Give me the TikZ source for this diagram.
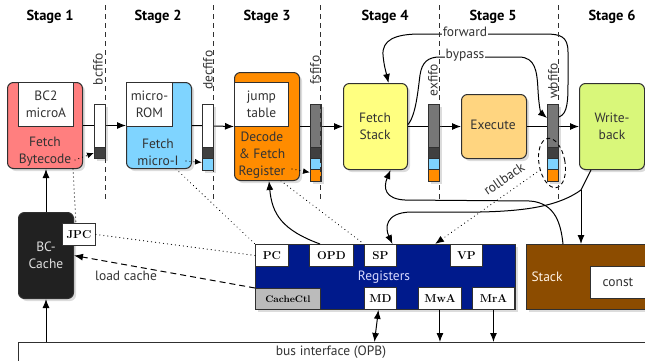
\documentclass[tikz,border=0pt]{standalone}
\usepackage{fontspec}
\setmainfont{PT Sans}
\newfontfamily\regfont{Latin Modern Roman}
\usetikzlibrary{arrows.meta,shadows,shapes.geometric,calc}
\definecolor{cred}{HTML}{FF7F7F}
\definecolor{cblue}{HTML}{7FD4FF}
\definecolor{corange}{HTML}{FF8C00}
\definecolor{cyellow}{HTML}{FFFF80}
\definecolor{cpeach}{HTML}{FFD580}
\definecolor{clime}{HTML}{D9F77A}
\definecolor{cnavy}{HTML}{001A8C}
\definecolor{cbrown}{HTML}{8C4C00}
\definecolor{cline}{HTML}{303030}
\definecolor{cgray}{HTML}{777777}
\definecolor{cdark}{HTML}{404040}
\definecolor{ctext}{HTML}{333333}
\definecolor{cctl}{HTML}{BBBBBB}
\begin{document}
\begin{tikzpicture}[x=1pt,y=-1pt,
  font=\fontsize{13.5}{17}\selectfont,
  shad/.style={drop shadow={shadow xshift=2.5pt,shadow yshift=-2.5pt,opacity=0.28}},
  stagebox/.style={draw=cline,line width=1pt,rounded corners=6pt,anchor=north west,inner sep=0pt,shad},
  inbox/.style={draw=cline,line width=0.9pt,fill=white,anchor=north west,inner sep=0pt,align=center,text=ctext},
  lbl/.style={align=center,text=ctext,inner sep=0pt},
  stagelbl/.style={font=\fontsize{14.5}{17}\selectfont\bfseries,inner sep=0pt},
  reg/.style={draw=cline,line width=0.9pt,fill=white,anchor=north west,inner sep=0pt,minimum height=22pt,font=\regfont\fontsize{11.5}{13}\selectfont\bfseries},
  fifo/.style={draw=cline,line width=0.8pt,anchor=north west,inner sep=0pt,minimum width=11pt,shad},
  seg/.style={draw=cline,line width=0.8pt,anchor=north west,inner sep=0pt,minimum width=11pt,minimum height=11pt},
  fifolbl/.style={rotate=90,text=ctext,inner sep=0pt},
  tip/.style={-{Latex[length=9pt,width=7pt]}},
  smalltip/.style={-{Latex[length=7pt,width=6pt]}},
  arr/.style={tip,line width=1pt,draw=black},
  plain/.style={line width=1pt,draw=black},
  dotline/.style={line width=1.2pt,dash pattern=on 0.01pt off 4pt,line cap=round},
  stagesep/.style={line width=0.9pt,draw=cline,dash pattern=on 5pt off 4pt},
  side/.style={text=ctext,inner sep=1pt}]
\useasboundingbox (0,0) rectangle (645,360);

% stage labels
\node[stagelbl] (s1) at (50,17) {Stage 1};
\node[stagelbl] (s2) at (158,17) {Stage 2};
\node[stagelbl] (s3) at (267,17) {Stage 3};
\node[stagelbl] (s4) at (385,17) {Stage 4};
\node[stagelbl] (s5) at (493,17) {Stage 5};
\node[stagelbl] (s6) at (612,17) {Stage 6};

% stage boxes
\node[stagebox,fill=cred,minimum width=75pt,minimum height=86pt] (fb) at (7,82) {};
\node[inbox,minimum width=55pt,minimum height=44pt] (fbi) at (18,82) {BC2\\microA};
\node[lbl] (fbt) at (45,152) {Fetch\\Bytecode};

\node[stagebox,fill=cblue,minimum width=65pt,minimum height=86pt] (fm) at (126,82) {};
\node[inbox,minimum width=46pt,minimum height=44pt] (fmi) at (126,82) {micro-\\ROM};
\node[lbl] (fmt) at (158,152) {Fetch\\micro-I};

\node[stagebox,fill=corange,minimum width=65pt,minimum height=108pt] (dr) at (234,72) {};
\node[inbox,minimum width=54pt,minimum height=44pt] (dri) at (234,82) {jump\\table};
\node[lbl] (drt) at (262,155) {Decode\\\& Fetch\\Register};

\node[stagebox,fill=cyellow,minimum width=64pt,minimum height=86pt] (fs) at (343,83) {};
\node[lbl] (fst) at (375,126) {Fetch\\Stack};

\node[stagebox,fill=cpeach,minimum width=65pt,minimum height=64pt] (ex) at (461,94) {};
\node[lbl] (ext) at (493,125) {Execute};

\node[stagebox,fill=clime,minimum width=65pt,minimum height=86pt] (wb) at (579,83) {};
\node[lbl] (wbt) at (612,126) {Write-\\back};

% main pipeline arrows
\draw[arr] (fb.east) -- (fm.west);
\draw[arr] (fm.east) -- (dr.west);
\draw[arr] (dr.east) -- (fs.west);
\draw[arr] (fs.east) -- (ex.west);
\draw[arr] (ex.east) -- (wb.west);

% fifos
\node[fifo,fill=white,minimum height=54pt] (bcf) at (94,104) {};
\node[seg,fill=cdark] (bcf2) at (94,147) {};

\node[fifo,fill=white,minimum height=66pt] (dcf) at (202,104) {};
\node[seg,fill=cdark] (dcf2) at (202,147) {};
\node[seg,fill=cblue,minimum height=12pt] (dcf3) at (202,158) {};

\node[fifo,fill=cgray,minimum height=77pt] (fsf) at (310,104) {};
\node[seg,fill=cdark] (fsf2) at (310,147) {};
\node[seg,fill=cblue] (fsf3) at (310,158) {};
\node[seg,fill=corange,minimum height=12pt] (fsf4) at (310,169) {};

\node[fifo,fill=cgray,minimum height=77pt] (exf) at (428,104) {};
\node[seg,fill=cdark] (exf2) at (428,147) {};
\node[seg,fill=cblue] (exf3) at (428,158) {};
\node[seg,fill=corange,minimum height=12pt] (exf4) at (428,169) {};

\node[fifo,fill=cgray,minimum height=77pt] (wbf) at (547,104) {};
\node[seg,fill=cdark] (wbf2) at (547,147) {};
\node[seg,fill=cblue] (wbf3) at (547,158) {};
\node[seg,fill=corange,minimum height=12pt] (wbf4) at (547,169) {};

% fifo labels
\node[fifolbl] (l1) at (98,69) {bcfifo};
\node[fifolbl] (l2) at (208,70) {decfifo};
\node[fifolbl] (l3) at (315,70) {fsfifo};
\node[fifolbl] (l4) at (433,80) {exfifo};
\node[fifolbl] (l5) at (553,81) {wbfifo};

% small write arrows into fifo slots
\draw[dotline,smalltip] ($(fb.south east)+(-8,-9)$) -- (bcf2.west);
\draw[dotline,smalltip] ($(fm.south east)+(-6,-8)$) -- ([yshift=2pt]dcf3.west);
\draw[dotline,smalltip] ($(dr.south east)+(-8,-12)$) -- ([yshift=3pt]fsf4.west);

% forward and bypass
\draw[arr] ([yshift=-13pt]wbf.north east) .. controls (568,114) and (568,100) .. (568,80)
  -- (568,52) .. controls (568,36) and (560,34) .. (545,34) -- (420,34)
  .. controls (395,34) and (382,40) .. (383,55) .. controls (384,66) and (386,72) .. ([xshift=13pt]fs.north);
\node[side,fill=white] (fwd) at (465,32) {forward};
\draw[arr] ([yshift=2pt]fs.east) .. controls (416,115) and (418,90) .. (420,75)
  .. controls (422,62) and (428,57) .. (440,57) -- (520,57)
  .. controls (535,58) and (537,70) .. (538,90) .. controls (539,108) and (541,113) .. ([yshift=-14pt]wbf.north west);
\node[side,fill=white] (byp) at (465,55) {bypass};

% bottom blocks
\node[stagebox,fill=black!87,minimum width=55pt,minimum height=86pt,text=white!88!black,align=center] (bcc) at (18,212) {BC-\\Cache};
\node[reg,minimum width=33pt] (jpc) at (62,223) {JPC};

\node[draw=cline,line width=1pt,fill=cnavy,anchor=north west,inner sep=0pt,minimum width=260pt,minimum height=65pt,shad] (regs) at (255,244) {};
\node[inner sep=0pt,text=blue!15!white] (regt) at (384,277) {Registers};
\node[reg,minimum width=33pt] (pc) at (255,244) {PC};
\node[reg,minimum width=44pt] (opd) at (309,244) {OPD};
\node[reg,minimum width=32pt] (sp) at (364,244) {SP};
\node[reg,minimum width=32pt] (vp) at (450,244) {VP};
\node[reg,minimum width=32pt] (md) at (364,287) {MD};
\node[reg,minimum width=43pt] (mwa) at (418,287) {MwA};
\node[reg,minimum width=42pt] (mra) at (472,287) {MrA};
\node[reg,fill=cctl,minimum width=65pt,minimum height=21pt,font=\regfont\fontsize{9.5}{11}\selectfont\bfseries] (cc) at (255,288) {CacheCtl};

\node[draw=cline,line width=1pt,fill=cbrown,anchor=north west,inner sep=0pt,minimum width=130pt,minimum height=65pt,shad] (stk) at (526,244) {};
\node[inner sep=0pt,text=orange!10!white] (stkt) at (547,277) {Stack};
\node[draw=cline,line width=0.9pt,fill=white,anchor=north west,inner sep=0pt,minimum width=55pt,minimum height=32pt,text=ctext] (cst) at (590,266) {const};

\node[draw=cline,line width=1pt,fill=white,anchor=north west,inner sep=0pt,minimum width=640pt,minimum height=36pt] (bus) at (18,342) {};
\node[inner sep=0pt,text=ctext] (bust) at (331,352) {bus interface (OPB)};

% bottom connectors
\draw[arr] (bus.north -| bcc.south) -- (bcc.south);
\draw[arr] (bcc.north) -- (bcc.north |- fb.south);
\draw[{Latex[length=9pt,width=7pt]}-{Latex[length=9pt,width=7pt]},line width=1pt] ([xshift=-2pt]md.south) -- ($(md.south |- bus.north)+(-6,0)$);
\draw[arr] (mwa.south) -- (mwa.south |- bus.north);
\draw[arr] (mra.south) -- (mra.south |- bus.north);
\draw[arr,dash pattern=on 6pt off 4pt] (cc.north west) -- (bcc.east);
\node[side] (lc) at (126,276) {load cache};

% dotted links
\draw[dotline] ([xshift=-10pt]fb.south east) -- ([xshift=-3pt]jpc.north);
\draw[dotline] (jpc.east) -- (pc.west);
\draw[dotline] ([xshift=-16pt]fm.south east) -- (pc.north west);
\draw[dotline] ([xshift=14pt]dr.south) -- (sp.north west);

% OPD to decode
\draw[arr] ([xshift=11pt]opd.north west) .. controls (282,230) and (272,214) .. ([xshift=2pt]dr.south);

% stack to fetch stack
\draw[arr] ([xshift=37pt]stk.north west) .. controls (561,225) and (556,203) .. (530,201) -- (405,200)
  .. controls (385,199) and (383,188) .. ([xshift=15pt]fs.south);

% write-back to stack and SP
\coordinate (jn) at (581,190);
\draw[plain] ([xshift=-21pt]wb.south) -- (jn);
\draw[arr] (jn) -- (jn |- stk.north);
\draw[arr] (jn) .. controls (560,205) and (530,211) .. (480,212) -- (410,212)
  .. controls (385,213) and (385,228) .. ([xshift=12pt]sp.north);

% rollback
\node[draw=black,line width=0.9pt,dash pattern=on 4pt off 3pt,ellipse,minimum width=26pt,minimum height=50pt,inner sep=0pt,rotate=10] (rb) at (552,163) {};
\coordinate (rbs) at (540,170);
\draw[dotline,tip] (rbs) -- ([xshift=180pt]regs.north west);
\node[side,rotate=34.5] (rbl) at (504,179) {rollback};

% stage separators
\draw[stagesep] (105,5) -- (105,202);
\draw[stagesep] (213,5) -- (213,202);
\draw[stagesep] (320.5,5) -- (320.5,202);
\draw[stagesep] (439,5) -- (439,202);
\draw[stagesep] (558,5) -- (558,202);
\end{tikzpicture}
\end{document}
